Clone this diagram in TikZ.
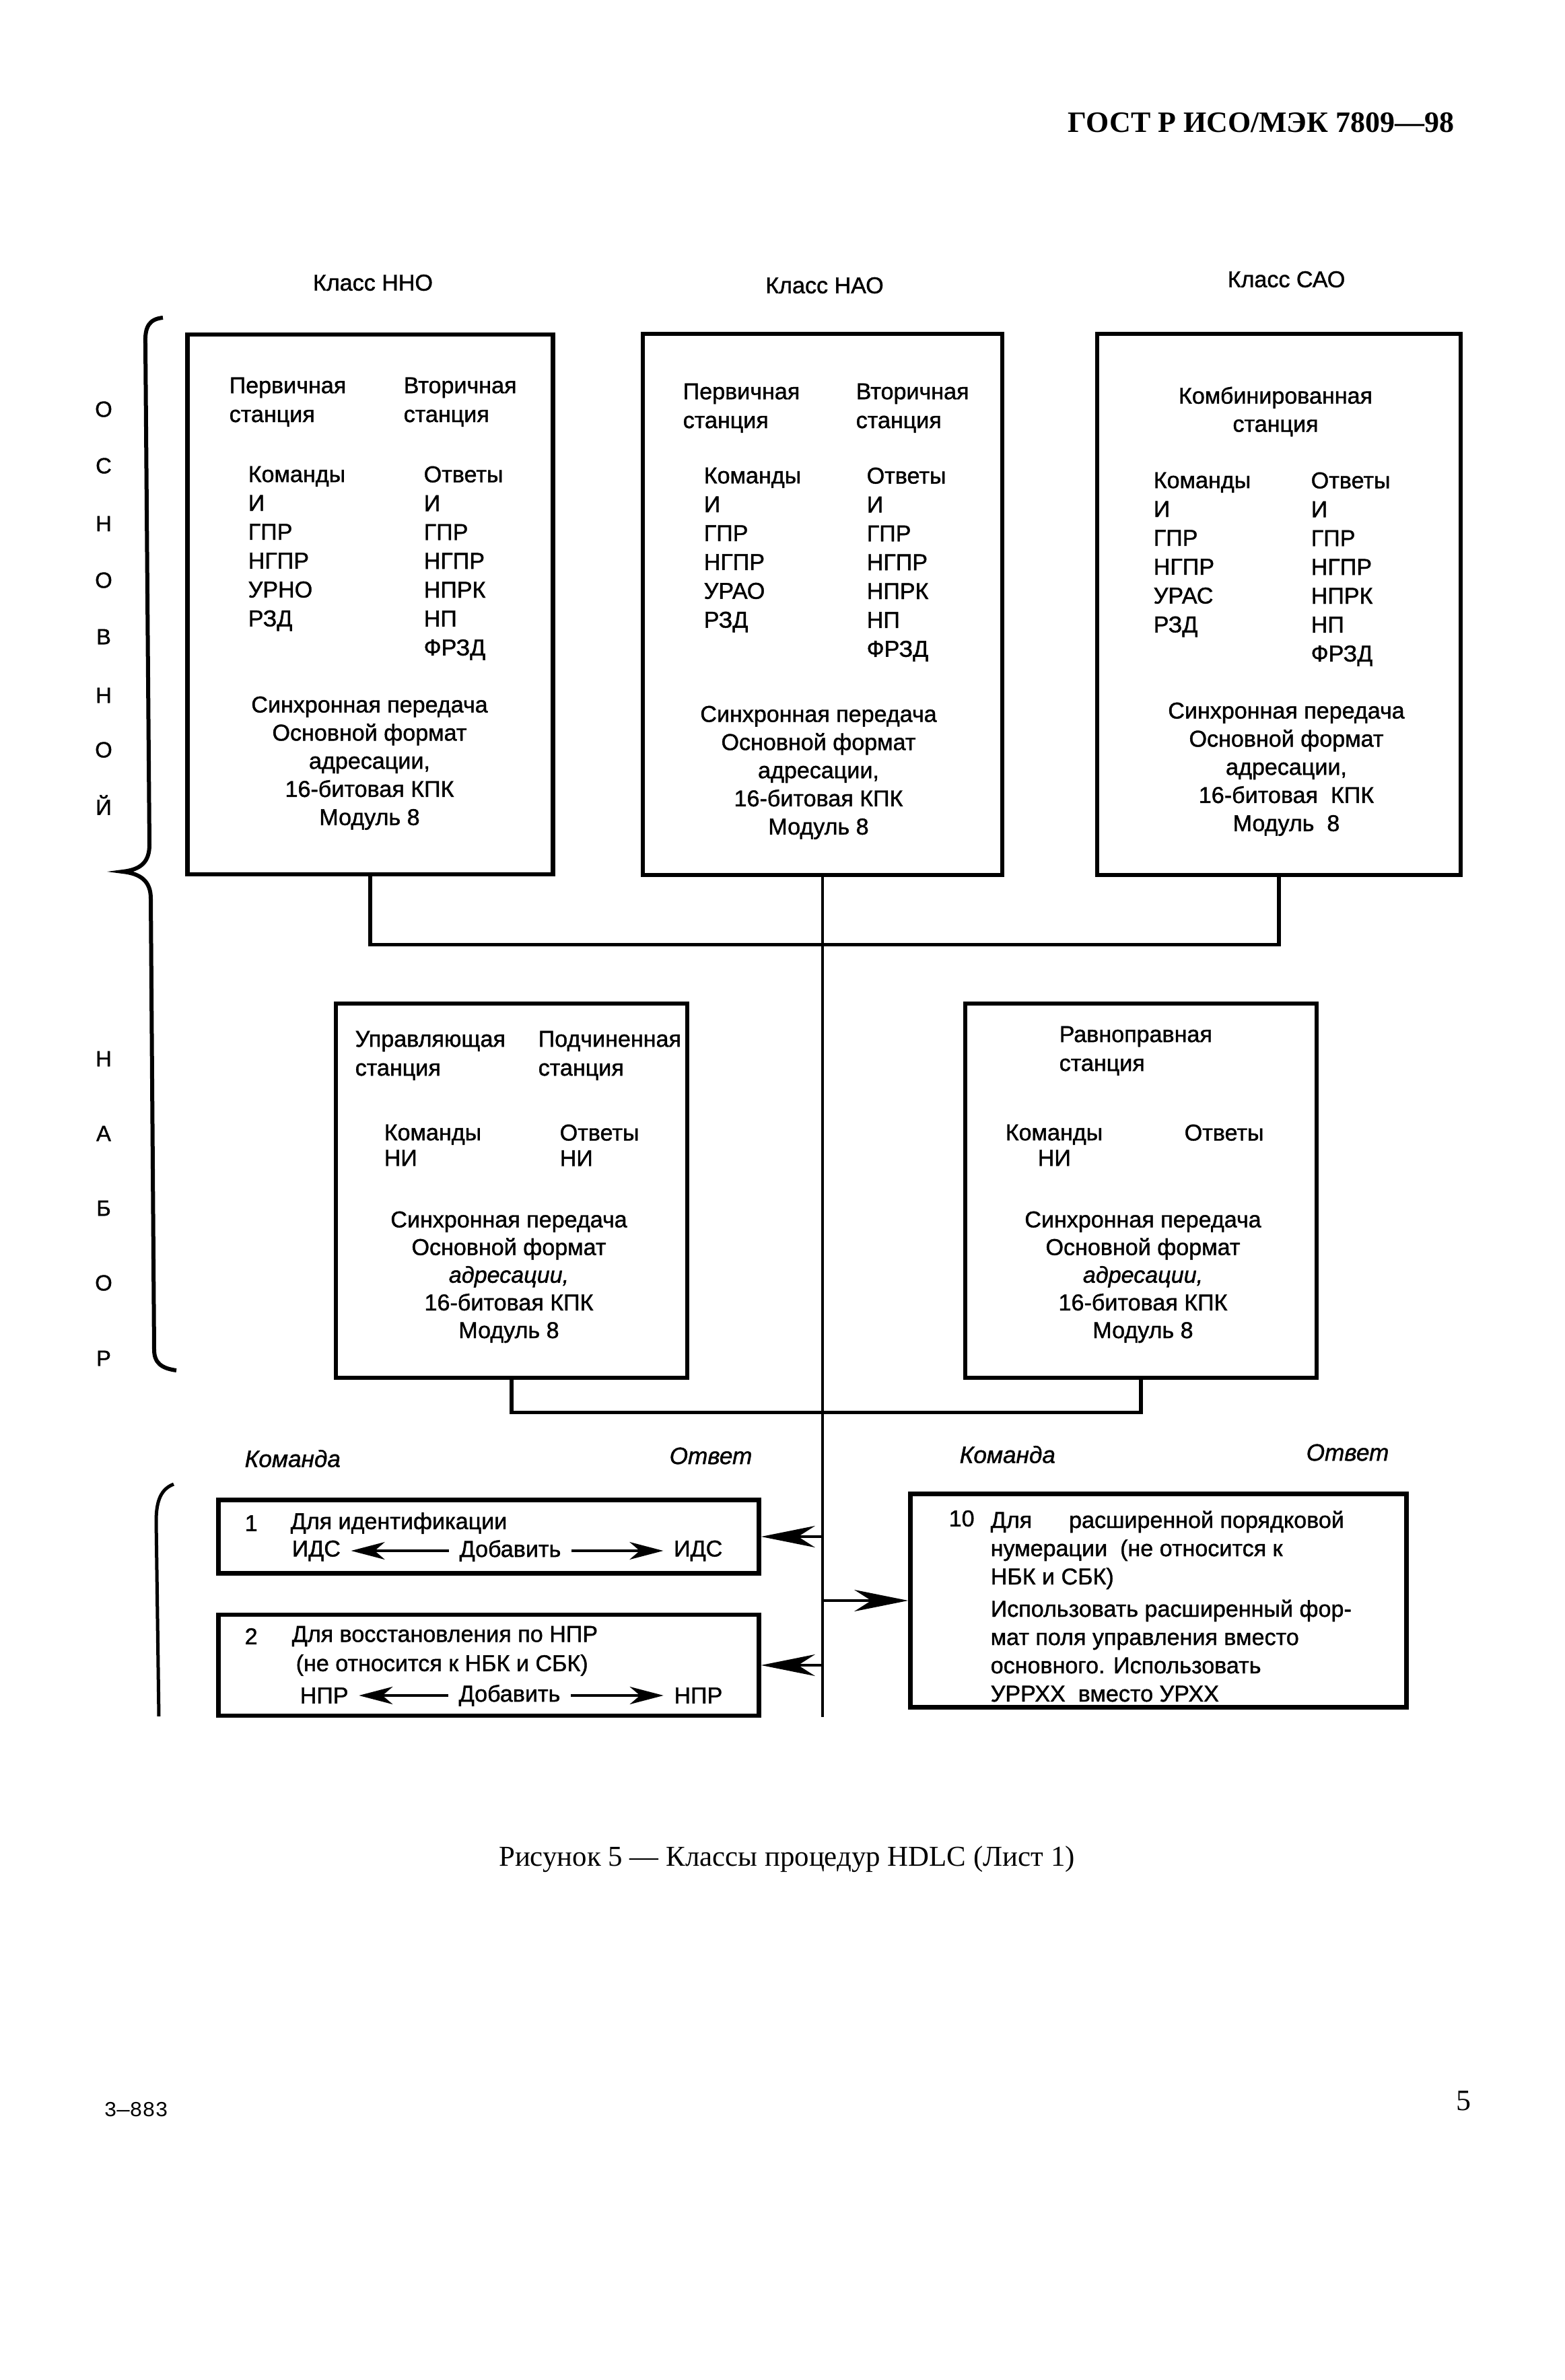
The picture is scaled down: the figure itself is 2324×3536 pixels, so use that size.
\documentclass[tikz,border=0pt]{standalone}
\usepackage{fontspec}
\setmainfont{Liberation Sans}[FakeBold=1.2]
\newfontfamily\timesfont{Liberation Serif}
\newfontfamily\typefont{Liberation Mono}
\usetikzlibrary{arrows.meta,positioning}

\begin{document}
\begin{tikzpicture}[x=0.1mm,y=-0.1mm,inner sep=0pt,
				font=\fontsize{9.7pt}{12.2pt}\selectfont,
				boxframe/.style={draw, line width=0.65mm},
				cols/.style={align=left, anchor=north west},
				block/.style={align=center, anchor=north, font=\fontsize{9.7pt}{11.9pt}\selectfont},
				oneline/.style={anchor=west},
				wire/.style={line width=0.55mm},
				bus/.style={line width=0.45mm},
				feed/.style={line width=0.45mm, -{Stealth[length=8mm,width=3.2mm,inset=2.5mm]}},
				addarrow/.style={line width=0.4mm, -{Stealth[length=5mm,width=2.6mm,inset=1.5mm]}, shorten <=1.5mm, shorten >=1.5mm}
			]
			\useasboundingbox (0,0) rectangle (2324,3536);
			
			\node (hdr) [anchor=east, font=\timesfont\bfseries\fontsize{12.5pt}{14pt}\selectfont] at (2161,182) {ГОСТ Р ИСО/МЭК 7809—98};
			
			\node (lbl_nno) at (554,420) {Класс ННО};
			\node (lbl_nao) at (1225,424) {Класс НАО};
			\node (lbl_sao) at (1911,415) {Класс САО};
			
			\foreach \ch/\yy in {О/608,С/692,Н/778,О/862,В/946,Н/1033,О/1114,Й/1196,Н/1573,А/1684,Б/1795,О/1906,Р/2018}
				\node (side_\yy) [font=\fontsize{9.3pt}{10pt}\selectfont] at (154,\yy) {\ch};
			
			\draw[line width=0.6mm] (242,472) .. controls (222,474) and (215,485) .. (216,510) -- (222,1255)
				.. controls (222,1280) and (210,1292) .. (182,1295) .. controls (210,1298) and (224,1310) .. (224,1335)
				-- (229,2005) .. controls (229,2025) and (240,2033) .. (262,2036);
			
			\node[boxframe, minimum width=54.3mm, minimum height=80.2mm] (box_nno) at (550,898) {};
			\node[boxframe, minimum width=53.4mm, minimum height=80.4mm] (box_nao) at (1222,898) {};
			\node[boxframe, minimum width=54.0mm, minimum height=80.4mm] (box_sao) at (1900,898) {};
			
			\node[cols] (nno_prim) at (340,560) {Первичная\\станция};
			\node[cols] (nno_sec) at (599,560) {Вторичная\\станция};
			\node[cols] (nno_cmd) at (368,692) {Команды\\И\\ГПР\\НГПР\\УРНО\\РЗД};
			\node[cols] (nno_rsp) at (629,692) {Ответы\\И\\ГПР\\НГПР\\НПРК\\НП\\ФРЗД};
			\node[block] (nno_sync) at (549,1034) {Синхронная передача\\Основной формат\\адресации,\\16-битовая КПК\\Модуль 8};
			
			\node[cols] (nao_prim) at (1014,569) {Первичная\\станция};
			\node[cols] (nao_sec) at (1271,569) {Вторичная\\станция};
			\node[cols] (nao_cmd) at (1045,694) {Команды\\И\\ГПР\\НГПР\\УРАО\\РЗД};
			\node[cols] (nao_rsp) at (1287,694) {Ответы\\И\\ГПР\\НГПР\\НПРК\\НП\\ФРЗД};
			\node[block] (nao_sync) at (1216,1048) {Синхронная передача\\Основной формат\\адресации,\\16-битовая КПК\\Модуль 8};
			
			\node[block] (sao_comb) at (1895,574) {Комбинированная\\станция};
			\node[cols] (sao_cmd) at (1713,701) {Команды\\И\\ГПР\\НГПР\\УРАС\\РЗД};
			\node[cols] (sao_rsp) at (1947,701) {Ответы\\И\\ГПР\\НГПР\\НПРК\\НП\\ФРЗД};
			\node[block] (sao_sync) at (1911,1043) {Синхронная передача\\Основной формат\\адресации,\\16-битовая\ \ КПК\\Модуль\ \ 8};
			
			\coordinate (bus_end) at (1222,2551);
			\draw[wire] (box_nno.south) -- ++(0,101) -| (box_sao.south);
			\draw[bus] (box_nao.south) -- (bus_end);
			
			\node[boxframe, minimum width=52.2mm, minimum height=55.6mm] (box_ctrl) at (760,1769) {};
			\node[boxframe, minimum width=52.2mm, minimum height=55.6mm] (box_peer) at (1695,1769) {};
			
			\node[cols] (ctrl_pri) at (527,1531) {Управляющая\\станция};
			\node[cols] (ctrl_sub) at (799,1531) {Подчиненная\\станция};
			\node[cols, font=\fontsize{9.7pt}{10.8pt}\selectfont] (ctrl_cmd) at (570,1670) {Команды\\НИ};
			\node[cols, font=\fontsize{9.7pt}{10.8pt}\selectfont] (ctrl_rsp) at (831,1670) {Ответы\\НИ};
			\node[block, font=\fontsize{9.7pt}{11.7pt}\selectfont] (ctrl_sync) at (756,1799) {Синхронная передача\\Основной формат\\\textit{адресации,}\\16-битовая КПК\\Модуль 8};
			
			\node[cols] (peer_eq) at (1573,1524) {Равноправная\\станция};
			\node[cols, font=\fontsize{9.7pt}{10.8pt}\selectfont] (peer_cmd) at (1493,1670) {Команды\\\hspace*{4.8mm}НИ};
			\node[cols] (peer_rsp) at (1759,1670) {Ответы};
			\node[block, font=\fontsize{9.7pt}{11.7pt}\selectfont] (peer_sync) at (1698,1799) {Синхронная передача\\Основной формат\\\textit{адресации,}\\16-битовая КПК\\Модуль 8};
			
			\draw[wire] (box_ctrl.south) -- ++(0,48) -| (box_peer.south);
			
			\node[oneline, font=\itshape] (cmd_l) at (363,2167) {Команда};
			\node[oneline, font=\itshape] (rsp_l) at (994,2163) {Ответ};
			\node[oneline, font=\itshape] (cmd_r) at (1425,2161) {Команда};
			\node[oneline, font=\itshape] (rsp_r) at (1940,2158) {Ответ};
			
			\draw[line width=0.5mm] (258,2205) .. controls (240,2212) and (232,2228) .. (232,2260) -- (236,2550);
			
			\node[boxframe, minimum width=80.3mm, minimum height=10.9mm] (box_ids) at (726,2283) {};
			\node[boxframe, minimum width=80.3mm, minimum height=15.0mm] (box_npr) at (726,2474) {};
			\node[boxframe, minimum width=73.7mm, minimum height=31.7mm] (box_ext) at (1721,2378) {};
			
			\node[oneline] (ids_no) at (363,2263) {1};
			\node[oneline] (ids_title) at (431,2263) {Для идентификации};
			\node[oneline] (ids_l) at (433,2304) {ИДС};
			\node (ids_add) at (758,2304) {Добавить};
			\node[oneline, anchor=east] (ids_r) at (1074,2304) {ИДС};
			\draw[addarrow] (ids_add) -- (ids_l);
			\draw[addarrow] (ids_add) -- (ids_r);
			
			\node[oneline] (npr_no) at (363,2431) {2};
			\node[oneline] (npr_title) at (433,2431) {Для восстановления по НПР};
			\node[oneline] (npr_note) at (439,2474) {(не относится к НБК и СБК)};
			\node[oneline] (npr_l) at (445,2519) {НПР};
			\node (npr_add) at (757,2519) {Добавить};
			\node[oneline, anchor=east] (npr_r) at (1074,2519) {НПР};
			\draw[addarrow] (npr_add) -- (npr_l);
			\draw[addarrow] (npr_add) -- (npr_r);
			
			\node[oneline] (ext_no) at (1409,2256) {10};
			\node[cols, font=\fontsize{9.7pt}{11.95pt}\selectfont] (ext_text) at (1471,2244) {Для\hspace{5.5mm}расширенной порядковой\\нумерации\ \ (не относится к\\НБК и СБК)\\[0.6mm]Использовать расширенный фор-\\мат поля управления вместо\\основного. Использовать\\УРРХХ\ \ вместо УРХХ};
			
			\draw[feed] (bus_end |- box_ids.east) -- (box_ids.east);
			\draw[feed] (bus_end |- box_npr.east) -- (box_npr.east);
			\draw[feed] (bus_end |- box_ext.west) -- (box_ext.west);
			
			\node (caption) [font=\timesfont\fontsize{12.2pt}{14pt}\selectfont] at (1169,2762) {Рисунок 5 — Классы процедур HDLC (Лист 1)};
			\node (code) [anchor=west, font=\typefont\fontsize{9pt}{10pt}\selectfont] at (154,3134) {3—883};
			\node (page) [font=\timesfont\fontsize{12.5pt}{14pt}\selectfont] at (2174,3121) {5};
		\end{tikzpicture}
\end{document}
